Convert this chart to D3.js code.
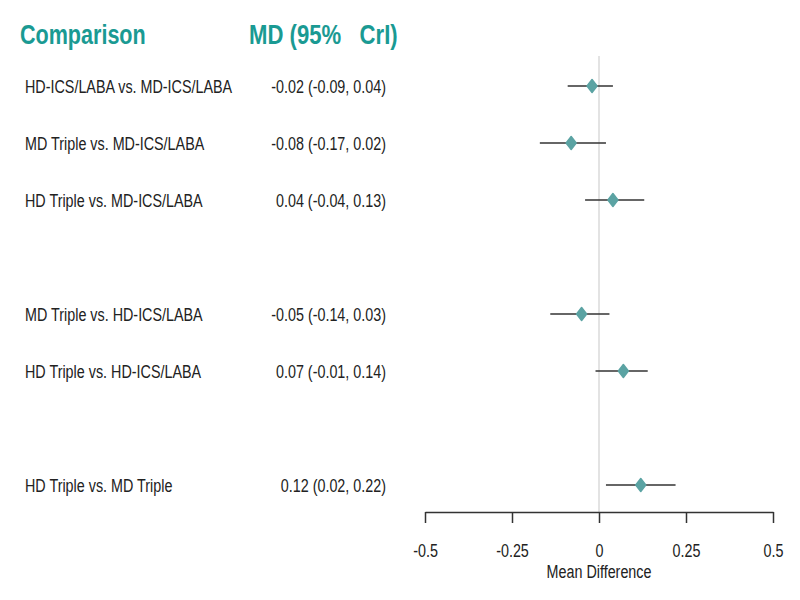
<!DOCTYPE html>
<html lang="en">
<head>
  <meta charset="UTF-8">
  <title>Forest plot - Mean Difference</title>
  <script src="https://d3js.org/d3.v7.min.js"></script>
  <style>
    body { margin: 0; background: #fff; }
    text { font-family: "Liberation Sans", Arial, sans-serif; fill: #222; white-space: pre; }
    .head { font-size: 28px; font-weight: bold; fill: #1a9a93; }
    .lab { font-size: 19px; }
    .axis text { font-size: 19px; }
  </style>
</head>
<body>
<div id="chart"></div>
<script>
// comparisons, with their row slot (gaps separate the groups)
var comparisons = [
  "HD-ICS/LABA vs. MD-ICS/LABA",
  "MD Triple vs. MD-ICS/LABA",
  "HD Triple vs. MD-ICS/LABA",
  "MD Triple vs. HD-ICS/LABA",
  "HD Triple vs. HD-ICS/LABA",
  "HD Triple vs. MD Triple"
];
var rowSlot = [0, 1, 2, 4, 5, 7];
var md    = [-0.02, -0.08, 0.04, -0.05, 0.07, 0.12];
var lower = [-0.09, -0.17, -0.04, -0.14, -0.01, 0.02];
var upper = [0.04, 0.02, 0.13, 0.03, 0.14, 0.22];
var mdText = [
  "-0.02 (-0.09, 0.04)",
  "-0.08 (-0.17, 0.02)",
  "0.04 (-0.04, 0.13)",
  "-0.05 (-0.14, 0.03)",
  "0.07 (-0.01, 0.14)",
  "0.12 (0.02, 0.22)"
];
var xTicks = [-0.5, -0.25, 0, 0.25, 0.5];

var width = 800, height = 600;
var squeeze = 0.755; // the picture's type is narrow

var svg = d3.select("#chart").append("svg")
  .attr("width", width)
  .attr("height", height);

var x = d3.scaleLinear().domain([-0.5, 0.5]).range([425, 773]);
var y = d3.scaleLinear().domain([0, 7]).range([86, 485]);

function place(px, py, s) {
  return "translate(" + px + "," + py + ") scale(" + (s || squeeze) + ",1)";
}

// headers
svg.append("text").attr("class", "head").attr("transform", place(20, 44, 0.77)).text("Comparison");
svg.append("text").attr("class", "head").attr("transform", place(249, 44, 0.79)).text("MD (95%   CrI)");

// reference line at zero
svg.append("line")
  .attr("x1", x(0)).attr("x2", x(0))
  .attr("y1", 56).attr("y2", 512)
  .attr("stroke", "#dadada").attr("stroke-width", 1.5);

var rows = svg.selectAll(".row")
  .data(comparisons)
  .enter().append("g")
  .attr("class", "row");

rows.append("text")
  .attr("class", "lab")
  .attr("transform", function(d, i) { return place(25, y(rowSlot[i])); })
  .attr("dy", "0.35em")
  .text(function(d) { return d; });

rows.append("text")
  .attr("class", "lab")
  .attr("text-anchor", "end")
  .attr("transform", function(d, i) { return place(386, y(rowSlot[i])); })
  .attr("dy", "0.35em")
  .text(function(d, i) { return mdText[i]; });

rows.append("line")
  .attr("x1", function(d, i) { return x(lower[i]); })
  .attr("x2", function(d, i) { return x(upper[i]); })
  .attr("y1", function(d, i) { return y(rowSlot[i]); })
  .attr("y2", function(d, i) { return y(rowSlot[i]); })
  .attr("stroke", "#333").attr("stroke-width", 1.4);

rows.append("path")
  .attr("d", "M0,-6.5L5,0L0,6.5L-5,0Z")
  .attr("transform", function(d, i) { return "translate(" + x(md[i]) + "," + y(rowSlot[i]) + ")"; })
  .attr("fill", "#5ba3a3")
  .attr("stroke", "#5ba3a3")
  .attr("stroke-width", 1.5)
  .attr("stroke-linejoin", "round");

// x axis
var axis = svg.append("g")
  .attr("class", "axis")
  .attr("transform", "translate(0,512)")
  .call(d3.axisBottom(x).tickValues(xTicks).tickSize(11).tickSizeOuter(0)
    .tickFormat(function(d) { return String(d); }));
axis.select(".domain").attr("stroke", "#333").attr("stroke-width", 1.5);
axis.selectAll(".tick line").attr("stroke", "#333").attr("stroke-width", 1.5);
axis.selectAll(".tick text")
  .attr("dy", 0).attr("y", 45)
  .attr("transform", "scale(" + squeeze + ",1)")
  .attr("fill", "#222");

svg.append("text")
  .attr("class", "lab")
  .attr("text-anchor", "middle")
  .attr("transform", place(x(0), 578))
  .text("Mean Difference");
</script>
</body>
</html>
